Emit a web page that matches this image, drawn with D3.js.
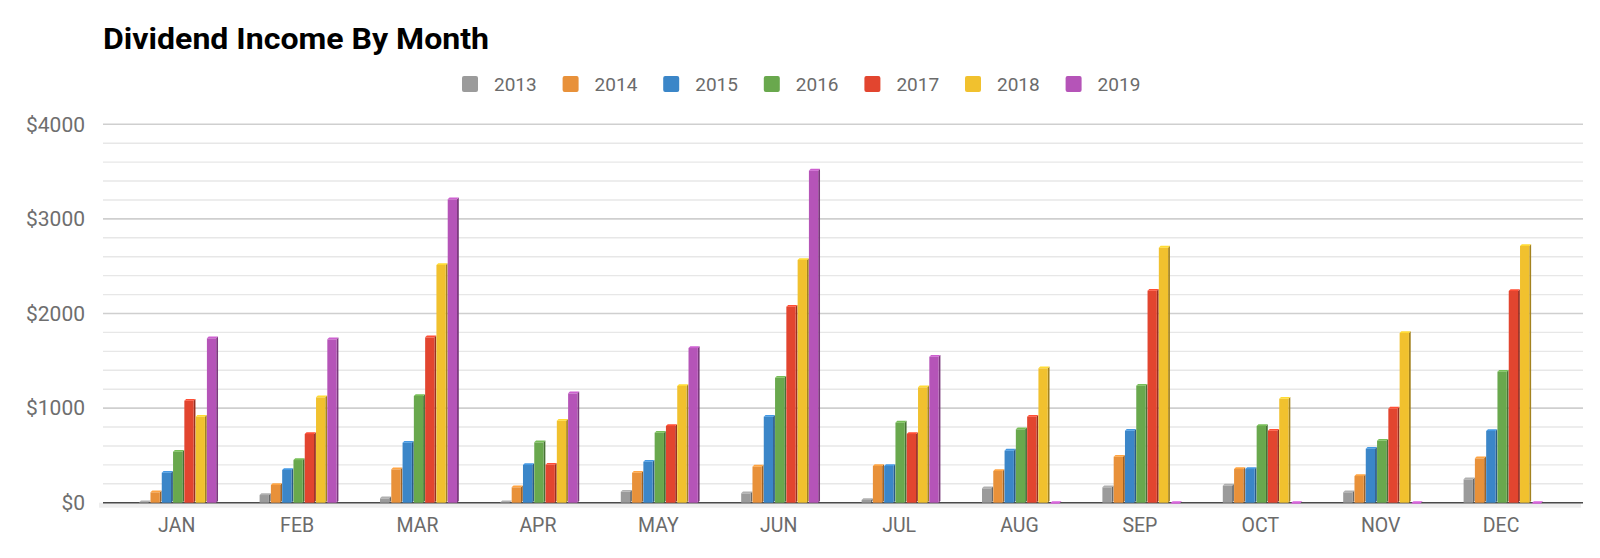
<!DOCTYPE html>
<html>
<head>
<meta charset="utf-8">
<script src="https://cdn.jsdelivr.net/npm/d3@7"></script>
<style>
  html, body { margin: 0; padding: 0; background: #ffffff; }
  svg { display: block; font-family: Roboto, "Noto Sans", Arial, sans-serif; }
</style>
</head>
<body>
<svg id="chart" width="1600" height="558"></svg>
<script>
// ---- data ----
const months = ["JAN","FEB","MAR","APR","MAY","JUN","JUL","AUG","SEP","OCT","NOV","DEC"];
const years = ["2013","2014","2015","2016","2017","2018","2019"];
const colors = ["#9b9b9b","#e8913a","#3b86c8","#69a84d","#e2452f","#f1c12e","#b554b8"];
const yTicks = [0, 1000, 2000, 3000, 4000];
const d2013 = [5, 81, 46, 5, 116, 99, 29, 152, 163, 180, 110, 247];
const d2014 = [110, 187, 353, 163, 317, 381, 388, 335, 486, 356, 282, 469];
const d2015 = [317, 346, 634, 399, 433, 909, 388, 550, 761, 356, 571, 758];
const d2016 = [539, 451, 1128, 638, 740, 1321, 846, 776, 1237, 811, 655, 1385];
const d2017 = [1078, 726, 1748, 400, 811, 2072, 726, 909, 2241, 761, 994, 2238];
const d2018 = [909, 1114, 2513, 867, 1234, 2566, 1220, 1421, 2696, 1099, 1794, 2714];
const d2019 = [1738, 1727, 3207, 1156, 1635, 3510, 1543, 0, 0, 0, 0, 0];
const series = [d2013, d2014, d2015, d2016, d2017, d2018, d2019];

// ---- layout ----
const svg = d3.select("#chart");
const gridLeft = 103, gridRight = 1583;
const x0 = d3.scaleBand().domain(months).range([116.5, 1561.3]).paddingInner(0).paddingOuter(0);
const groupW = 79;
const x1 = d3.scaleBand().domain(years).range([0, groupW]).paddingInner(0).paddingOuter(0);
const y = d3.scaleLinear().domain([0, 4000]).range([502.7, 124.3]);
const y0 = y(0);

// title
const title = svg.append("text")
  .attr("x", 103).attr("y", 48.5)
  .attr("font-size", 30).attr("font-weight", 700).attr("fill", "#000")
  .text("Dividend Income By Month");
const tl = title.node().getComputedTextLength();
if (Math.abs(tl - 386) > 3) title.attr("textLength", 386).attr("lengthAdjust", "spacingAndGlyphs");

// legend
const legItemW = 100.6;
const leg = svg.append("g").attr("transform", "translate(462,76)");
years.forEach((yr, i) => {
  const g = leg.append("g").attr("transform", `translate(${i * legItemW},0)`);
  g.append("rect").attr("width", 16).attr("height", 16).attr("rx", 2).attr("fill", colors[i]);
  g.append("text").attr("x", 32).attr("y", 8).attr("dy", "0.35em")
    .attr("font-size", 19).attr("fill", "#6b6b6b").text(yr);
});

// gridlines (minor every 200, major every 1000)
const gridVals = d3.range(200, 4001, 200);
svg.append("g").selectAll("line").data(gridVals).join("line")
  .attr("x1", gridLeft).attr("x2", gridRight)
  .attr("y1", d => y(d)).attr("y2", d => y(d))
  .attr("stroke", d => d % 1000 === 0 ? "#cfcfcf" : "#e7e7e7")
  .attr("stroke-width", d => d % 1000 === 0 ? 1.6 : 1.4);

// floor
svg.append("rect").attr("x", gridLeft - 4).attr("y", y0).attr("width", gridRight - gridLeft + 2).attr("height", 5)
  .attr("fill", "#eeeeee");
svg.append("line").attr("x1", gridLeft).attr("x2", gridRight).attr("y1", y0).attr("y2", y0)
  .attr("stroke", "#4a4a4a").attr("stroke-width", 1.5);

// y axis labels
const yAxis = d3.axisLeft(y).tickValues(yTicks).tickSize(0).tickPadding(0).tickFormat(d => "$" + d);
const gy = svg.append("g").attr("transform", "translate(85,0)").call(yAxis);
gy.select(".domain").remove();
gy.selectAll("text").attr("font-size", 21).attr("fill", "#6e6e6e").attr("font-family", "Roboto, Arial, sans-serif");

// x axis labels
const xAxis = d3.axisBottom(x0).tickSize(0).tickPadding(0);
const gx = svg.append("g").attr("transform", "translate(0,518)").call(xAxis);
gx.select(".domain").remove();
gx.selectAll("text").attr("font-size", 19.5).attr("fill", "#6b6b6b").attr("font-family", "Roboto, Arial, sans-serif");

// bars with a small 3D look
const faceW = 9.3, dx = 1.8, dy = 1.8;
const rows = [];
months.forEach((m, mi) => {
  years.forEach((yr, si) => {
    rows.push({ m, yr, si, v: series[si][mi] });
  });
});
const bars = svg.append("g");
const gOf = d => x0(d.m) + x0.bandwidth() / 2 - groupW / 2 + 2 + x1(d.yr);
rows.forEach(d => {
  const bx = gOf(d);
  const top = y(d.v);
  const c = d3.color(colors[d.si]);
  const g = bars.append("g");
  if (d.v > 0) {
    g.append("path")
      .attr("d", `M${bx + faceW},${top} L${bx + faceW + dx},${top - dy} L${bx + faceW + dx},${y0 - dy} L${bx + faceW},${y0} Z`)
      .attr("fill", c.darker(1.1));
    g.append("rect").attr("x", bx).attr("y", top).attr("width", faceW).attr("height", Math.max(0, y0 - top))
      .attr("fill", c);
    g.append("path")
      .attr("d", `M${bx},${top} L${bx + dx},${top - dy} L${bx + faceW + dx},${top - dy} L${bx + faceW},${top} Z`)
      .attr("fill", c.brighter(0.35));
  } else {
    // flat (zero) bar: just a thin lozenge on the floor
    g.append("path")
      .attr("d", `M${bx},${y0 + 1} L${bx + 2.5},${y0 - 1.5} L${bx + faceW + 2.5},${y0 - 1.5} L${bx + faceW},${y0 + 1} Z`)
      .attr("fill", c.brighter(0.5));
  }
});
</script>
</body>
</html>
